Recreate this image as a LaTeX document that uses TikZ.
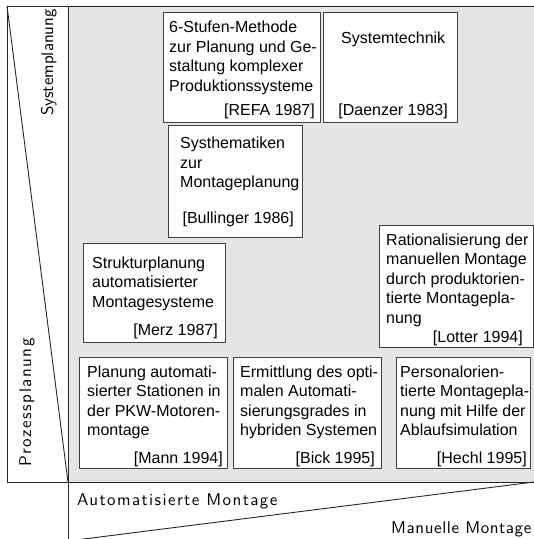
\documentclass[tikz,border=0pt]{standalone}
\usepackage{fontspec}
\setmainfont{Liberation Sans}
\newfontfamily\isofont{lmsans10-regular.otf}
\newcommand\rows[1]{\begin{tabular}[t]{@{}l@{}}#1\end{tabular}}
\newcommand\spaced[2]{{\addfontfeature{LetterSpace=#1}#2}}
\begin{document}
\begin{tikzpicture}[x=1pt,y=-1pt,
  frameline/.style={draw=black!85,line width=0.9pt},
  refbox/.style={draw=black!75,fill=white,line width=0.9pt,outer sep=0pt,
    inner sep=0pt,anchor=north west},
  body/.style={inner sep=0pt,anchor=base west,font=\fontsize{16}{19.5}\selectfont},
  cite/.style={inner sep=0pt,anchor=base east,font=\fontsize{16}{19.5}\selectfont},
  axislabel/.style={inner sep=0pt,anchor=base west,font=\isofont\fontsize{17}{20}\selectfont}]
\useasboundingbox (0,0) rectangle (534,539);
\clip (0,0) rectangle (534,539);

% shaded field of the classification
\fill[black!10] (68,6) rectangle (534,482);

% frame, axes and wedges
\draw[frameline] (534,6) -- (7,6) -- (7,482) -- (534,482);
\draw[frameline] (68,6) -- (68,539);
\draw[frameline] (7,6) -- (68,482);
\draw[frameline] (68,541) -- (534,482);

% axis labels
\node[axislabel,rotate=90] (sys) at (53,116) {\spaced{0}{Systemplanung}};
\node[axislabel,rotate=90] (proz) at (31,467) {\spaced{8.8}{Prozessplanung}};
\node[axislabel] (auto) at (77,505) {\spaced{8.3}{Automatisierte Montage}};
\node[axislabel] (man) at (391,533) {\spaced{3.4}{Manuelle Montage}};

% method boxes
\node[refbox,minimum width=157,minimum height=110] (b1) at (163,12) {};
\node[refbox,minimum width=134,minimum height=110] (b2) at (323,12) {};
\node[refbox,minimum width=134,minimum height=112] (b3) at (168,125) {};
\node[refbox,minimum width=142,minimum height=99]  (b4) at (83,243) {};
\node[refbox,minimum width=154,minimum height=122] (b5) at (379,225) {};
\node[refbox,minimum width=148,minimum height=111] (b6) at (79,357) {};
\node[refbox,minimum width=148,minimum height=111] (b7) at (233,357) {};
\node[refbox,minimum width=134,minimum height=111] (b8) at (396,357) {};

% box texts
\node[body] (t1) at (169,32.5) {\rows{6-Stufen-Methode\\zur Planung und Ge-\\staltung komplexer\\Produktionssysteme}};
\node[cite] (c1) at (315,115) {[REFA 1987]};
\node[body] (t2) at (341,43.5) {Systemtechnik};
\node[cite] (c2) at (448,115) {[Daenzer 1983]};
\node[body] (t3) at (180,148.5) {\rows{Systhematiken\\zur\\Montageplanung}};
\node[cite] (c3) at (294,223) {[Bullinger 1986]};
\node[body] (t4) at (92,268) {\rows{Strukturplanung\\automatisierter\\Montagesysteme}};
\node[cite] (c4) at (218,335) {[Merz 1987]};
\node[body] (t5) at (386,245) {\rows{Rationalisierung der\\manuellen Montage\\durch produktorien-\\tierte Montagepla-\\nung}};
\node[cite] (c5) at (523,342) {[Lotter 1994]};
\node[body] (t6) at (87,377) {\rows{Planung automati-\\sierter Stationen in\\der PKW-Motoren-\\montage}};
\node[cite] (c6) at (223,463.5) {[Mann 1994]};
\node[body] (t7) at (240,377) {\rows{Ermittlung des opti-\\malen Automati-\\sierungsgrades in\\hybriden Systemen}};
\node[cite] (c7) at (375,463.5) {[Bick 1995]};
\node[body] (t8) at (400,377) {\rows{Personalorien-\\tierte Montagepla-\\nung mit Hilfe der\\Ablaufsimulation}};
\node[cite] (c8) at (527,463.5) {[Hechl 1995]};
\end{tikzpicture}
\end{document}
